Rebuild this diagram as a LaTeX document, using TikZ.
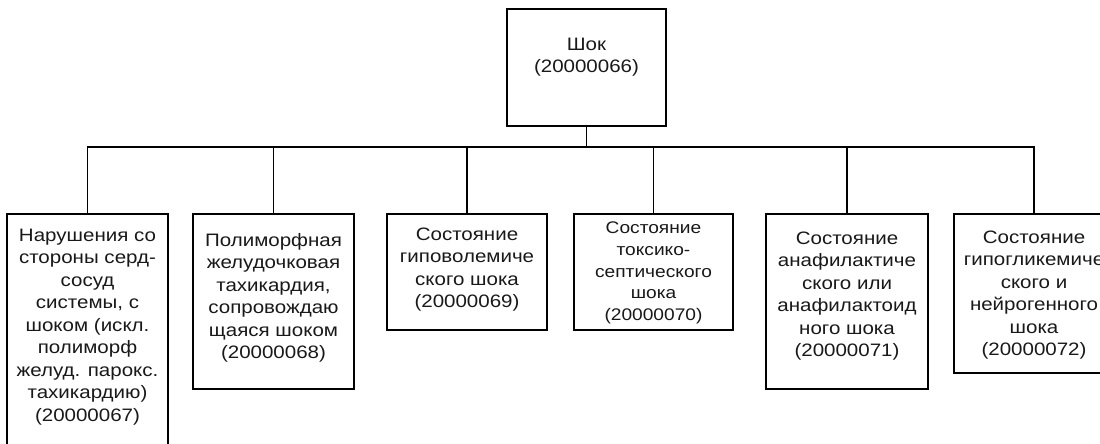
\documentclass[tikz,border=0pt]{standalone}
\usepackage{fontspec}
\setmainfont{Liberation Sans}[FakeStretch=1.14]
\begin{document}
\begin{tikzpicture}[x=1pt,y=-1pt,
  frame/.style={draw=black,line width=1.7pt,rectangle,inner sep=0pt},
  lbl/.style={align=center,inner sep=0pt,text=black!90,font=\fontsize{18}{22.5}\selectfont},
  lblsmall/.style={align=center,inner sep=0pt,text=black!90,font=\fontsize{16.8}{21.8}\selectfont},
  link/.style={draw=black,line width=1.7pt}]
\clip (0,0) rectangle (1100,444);
\fill[white] (0,0) rectangle (1100,444);
% boxes
\node[frame,minimum width=159pt,minimum height=117pt] (b0) at (586.5,67.5) {};
\node[frame,minimum width=161pt,minimum height=256pt] (b1) at (87.5,342) {};
\node[frame,minimum width=161pt,minimum height=175pt] (b2) at (273.5,301.5) {};
\node[frame,minimum width=160pt,minimum height=116pt] (b3) at (467,272) {};
\node[frame,minimum width=159pt,minimum height=116pt] (b4) at (653.5,272) {};
\node[frame,minimum width=162pt,minimum height=175pt] (b5) at (847,301.5) {};
\node[frame,minimum width=160pt,minimum height=159pt] (b6) at (1034,293.5) {};
% texts
\node[lbl] (t0) at (586.5,57) {Шок\\(20000066)};
\node[lbl] (t1) at (87.5,327) {Нарушения со\\стороны серд-\\сосуд\\системы, с\\шоком (искл.\\полиморф\\желуд. парокс.\\тахикардию)\\(20000067)};
\node[lbl] (t2) at (273.5,298) {Полиморфная\\желудочковая\\тахикардия,\\сопровождаю\\щаяся шоком\\(20000068)};
\node[lbl] (t3) at (467,269.5) {Состояние\\гиповолемиче\\ского шока\\(20000069)};
\node[lblsmall] (t4) at (653.5,273) {Состояние\\токсико-\\септического\\шока\\(20000070)};
\node[lbl] (t5) at (847,296) {Состояние\\анафилактиче\\ского или\\анафилактоид\\ного шока\\(20000071)};
\node[lbl] (t6) at (1034,295) {Состояние\\гипогликемиче\\ского и\\нейрогенного\\шока\\(20000072)};
% connectors
\coordinate (bus) at (588,147);
\draw[link] (b0.south) -- (b0.south |- bus);
\draw[link] (b1.north) -- (b1.north |- bus) -- (b6.north |- bus) -- (b6.north);
\draw[link] (b2.north) -- (b2.north |- bus);
\draw[link] (b3.north) -- (b3.north |- bus);
\draw[link] (b4.north) -- (b4.north |- bus);
\draw[link] (b5.north) -- (b5.north |- bus);
\end{tikzpicture}
\end{document}
